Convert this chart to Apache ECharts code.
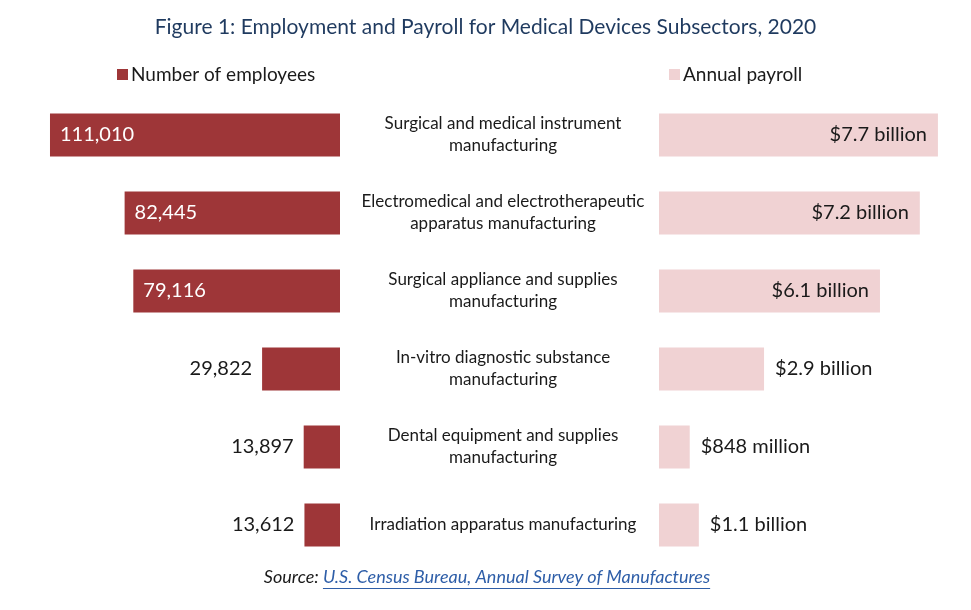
<!DOCTYPE html>
<html>
<head>
<meta charset="utf-8">
<script src="https://cdn.jsdelivr.net/npm/echarts@6/dist/echarts.min.js"></script>
<style>
html,body{margin:0;padding:0;background:#fff;}
#main{width:971px;height:610px;}
</style>
</head>
<body>
<div id="main"></div>
<script>
var categories = [
  'Surgical and medical instrument\nmanufacturing',
  'Electromedical and electrotherapeutic\napparatus manufacturing',
  'Surgical appliance and supplies\nmanufacturing',
  'In-vitro diagnostic substance\nmanufacturing',
  'Dental equipment and supplies\nmanufacturing',
  'Irradiation apparatus manufacturing'
];
var employees = [111010, 82445, 79116, 29822, 13897, 13612];
var payroll = [7.7, 7.2, 6.1, 2.9, 0.848, 1.1];
var payrollLabels = ['$7.7 billion', '$7.2 billion', '$6.1 billion', '$2.9 billion', '$848 million', '$1.1 billion'];

var FONT = 'Lato, "Open Sans", sans-serif';
var DARK = '#9E3638';
var PINK = '#F0D2D3';

var chart = echarts.init(document.getElementById('main'));

var empData = employees.map(function (v) {
  var inside = v > 50000;
  return {
    value: v,
    label: {
      position: inside ? 'insideLeft' : 'left',
      color: inside ? '#ffffff' : '#1a1a1a',
      distance: 10
    }
  };
});
var payData = payroll.map(function (v, i) {
  var inside = v > 5;
  return {
    value: v,
    label: {
      position: inside ? 'insideRight' : 'right',
      distance: 11,
      formatter: payrollLabels[i]
    }
  };
});

var linkText = 'U.S. Census Bureau, Annual Survey of Manufactures';
var srcText = 'Source: ';
var SRC_FONT = 'italic 18px ' + FONT;
var ctx = document.createElement('canvas').getContext('2d');
ctx.font = SRC_FONT;
var linkW = ctx.measureText(linkText).width;
var srcW = ctx.measureText(srcText).width;
var totalW = linkW + srcW;
var startX = 487 - totalW / 2;

chart.setOption({
  animation: false,
  title: {
    text: 'Figure 1: Employment and Payroll for Medical Devices Subsectors, 2020',
    left: 'center',
    top: 12,
    textStyle: { fontFamily: FONT, fontSize: 21, fontWeight: 'normal', color: '#1F3A5F' }
  },
  legend: [
    {
      data: ['Number of employees'],
      left: 112, top: 60,
      icon: 'rect', itemWidth: 11, itemHeight: 11, itemGap: 5,
      textStyle: { fontFamily: FONT, fontSize: 19, color: '#1a1a1a', padding: [0, 0, 0, -2] }
    },
    {
      data: ['Annual payroll'],
      left: 664, top: 60,
      icon: 'rect', itemWidth: 11, itemHeight: 11, itemGap: 5,
      textStyle: { fontFamily: FONT, fontSize: 19, color: '#1a1a1a', padding: [0, 0, 0, -2] }
    }
  ],
  grid: [
    { left: 26.5, width: 313.5, top: 96, height: 468, containLabel: false },
    { left: 659, width: 289.8, top: 96, height: 468, containLabel: false }
  ],
  xAxis: [
    { type: 'value', gridIndex: 0, inverse: true, min: 0, max: 120000, show: false },
    { type: 'value', gridIndex: 1, min: 0, max: 8, show: false }
  ],
  yAxis: [
    { type: 'category', gridIndex: 0, data: categories, inverse: true, show: false },
    {
      type: 'category', gridIndex: 1, data: categories, inverse: true, position: 'left',
      axisLine: { show: false }, axisTick: { show: false },
      axisLabel: {
        margin: 156, align: 'center', lineHeight: 22,
        fontFamily: FONT, fontSize: 17, color: '#1a1a1a'
      }
    }
  ],
  series: [
    {
      name: 'Number of employees', type: 'bar', xAxisIndex: 0, yAxisIndex: 0,
      data: empData, barWidth: 43, itemStyle: { color: DARK },
      label: {
        show: true, fontFamily: FONT, fontSize: 20,
        formatter: function (p) { return p.value.toLocaleString('en-US'); }
      }
    },
    {
      name: 'Annual payroll', type: 'bar', xAxisIndex: 1, yAxisIndex: 1,
      data: payData, barWidth: 43, itemStyle: { color: PINK },
      label: { show: true, fontFamily: FONT, fontSize: 20, color: '#1a1a1a' }
    }
  ],
  graphic: [
    {
      type: 'text', left: startX, top: 568,
      style: { text: srcText, font: SRC_FONT, fill: '#1a1a1a' }
    },
    {
      type: 'text', left: startX + srcW, top: 568,
      style: { text: linkText, font: SRC_FONT, fill: '#2E5EA8' }
    },
    {
      type: 'line',
      shape: { x1: startX + srcW, y1: 588.5, x2: startX + srcW + linkW, y2: 588.5 },
      style: { stroke: '#2E5EA8', lineWidth: 1 }
    }
  ]
});
</script>
</body>
</html>
